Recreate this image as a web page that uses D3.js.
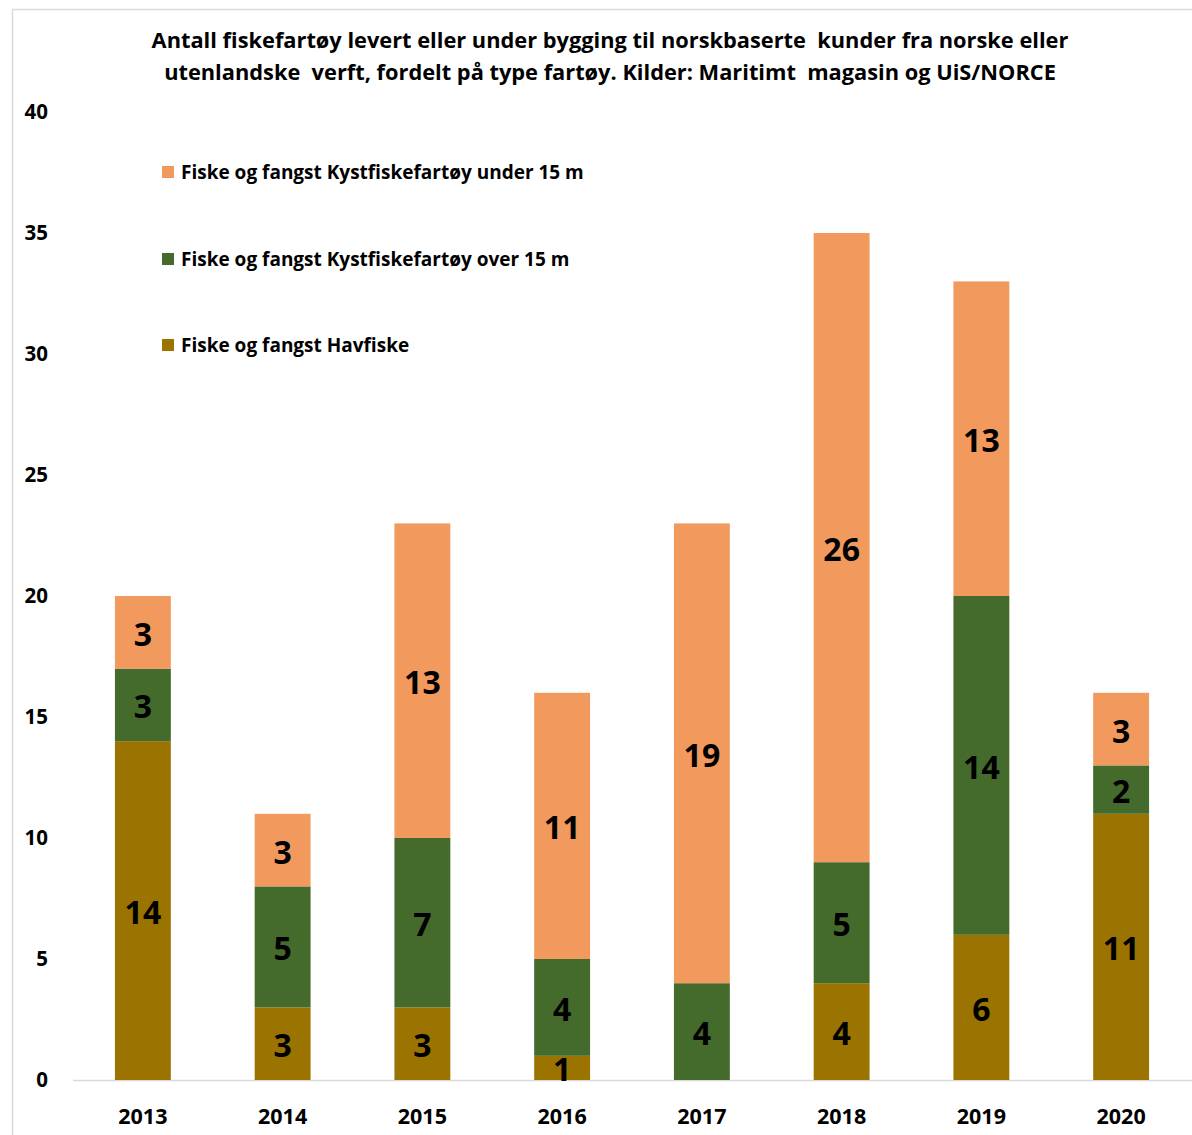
<!DOCTYPE html>
<html><head><meta charset="utf-8">
<script src="https://cdn.jsdelivr.net/npm/d3@7"></script>
<style>
body{margin:0;background:#fff;}
svg{display:block;font-family:"Open Sans",sans-serif;font-weight:bold;}
</style></head>
<body>
<svg id="chart" width="1192" height="1135"></svg>
<script>
const years = ["2013","2014","2015","2016","2017","2018","2019","2020"];
const havfiske = [14,3,3,1,0,4,6,11];
const over15 = [3,5,7,4,4,5,14,2];
const under15 = [3,3,13,11,19,26,13,3];
const seriesNames = ["Fiske og fangst Havfiske","Fiske og fangst Kystfiskefartøy over 15 m","Fiske og fangst Kystfiskefartøy under 15 m"];
const seriesColors = ["#9A7300","#446A2C","#F2995D"];
const yTicks = [0,5,10,15,20,25,30,35,40];
const titleLines = ["Antall fiskefartøy levert eller under bygging til norskbaserte  kunder fra norske eller","utenlandske  verft, fordelt på type fartøy. Kilder: Maritimt  magasin og UiS/NORCE"];

const svg = d3.select("#chart");
const keys = ["h","o","u"];
const rows = years.map((y,i)=>({year:y,h:havfiske[i],o:over15[i],u:under15[i]}));
const stack = d3.stack().keys(keys)(rows);

const x = d3.scaleBand().domain(years).range([73,1191]).paddingInner(0.6).paddingOuter(0.3);
const y = d3.scaleLinear().domain([0,40]).range([1080,112]);

// frame
svg.append("path").attr("d","M12.5,1135 V9.5 H1192").attr("fill","none").attr("stroke","#d9d9d9").attr("stroke-width",1.5);

// title
const tt = svg.append("text").attr("text-anchor","middle").attr("font-size",21.8).attr("fill","#000").style("white-space","pre");
tt.selectAll("tspan").data(titleLines).join("tspan").attr("x",610).attr("y",(d,i)=>48+i*32).text(d=>d);

// y axis labels
svg.append("g").selectAll("text").data(yTicks).join("text")
  .attr("x",48).attr("y",d=>y(d)).attr("dy","0.35em").attr("text-anchor","end")
  .attr("font-size",20.5).attr("fill","#000").text(d=>d);

// baseline
svg.append("line").attr("x1",73).attr("x2",1192).attr("y1",y(0)+0.5).attr("y2",y(0)+0.5).attr("stroke","#d9d9d9").attr("stroke-width",1.5);

// bars
const g = svg.append("g");
stack.forEach((s,si)=>{
  g.append("g").attr("fill",seriesColors[si]).selectAll("rect").data(s).join("rect")
    .attr("x",d=>x(d.data.year)).attr("width",x.bandwidth())
    .attr("y",d=>y(d[1])).attr("height",d=>y(d[0])-y(d[1]));
});
stack.forEach((s,si)=>{
  g.append("g").selectAll("text").data(s.filter(d=>d[1]-d[0]>0)).join("text")
    .attr("x",d=>x(d.data.year)+x.bandwidth()/2)
    .attr("y",d=>(y(d[0])+y(d[1]))/2).attr("dy","0.42em")
    .attr("text-anchor","middle").attr("font-size",32).attr("fill","#000")
    .text(d=>d[1]-d[0]);
});

// x labels
svg.append("g").selectAll("text").data(years).join("text")
  .attr("x",d=>x(d)+x.bandwidth()/2).attr("y",1116).attr("dy","0.35em")
  .attr("text-anchor","middle").attr("font-size",21.5).attr("fill","#000").text(d=>d);

// legend (top to bottom: under15, over15, havfiske)
const legendOrder = [2,1,0];
const legendY = [172,259,345];
const lg = svg.append("g");
legendOrder.forEach((si,i)=>{
  lg.append("rect").attr("x",162).attr("y",legendY[i]-6).attr("width",12).attr("height",12).attr("fill",seriesColors[si]);
  lg.append("text").attr("x",181).attr("y",legendY[i]).attr("dy","0.35em").attr("font-size",19).attr("fill","#000").text(seriesNames[si]);
});
</script>
</body></html>
